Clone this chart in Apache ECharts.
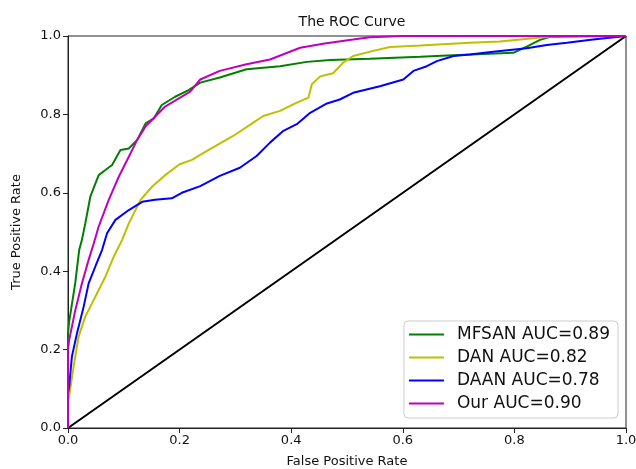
<!DOCTYPE html>
<html>
<head>
<meta charset="utf-8">
<script src="https://cdn.jsdelivr.net/npm/echarts@6/dist/echarts.min.js"></script>
<style>
  html, body { margin: 0; padding: 0; background: #fff; }
  #chart { width: 636px; height: 469px; }
</style>
</head>
<body>
<div id="chart"></div>
<script>
// ROC curves (false positive rate / true positive rate)
const mfsanFpr = [0, 0, 0.002, 0.013, 0.02, 0.025, 0.031, 0.04, 0.055, 0.067, 0.079, 0.094, 0.109, 0.124, 0.139, 0.154, 0.168, 0.192, 0.216, 0.237, 0.272, 0.32, 0.38, 0.428, 0.47, 0.541, 0.631, 0.69, 0.798, 0.822, 0.846, 0.864, 1.0];
const mfsanTpr = [0, 0.24, 0.27, 0.37, 0.454, 0.48, 0.522, 0.59, 0.645, 0.658, 0.671, 0.709, 0.713, 0.735, 0.777, 0.79, 0.824, 0.845, 0.862, 0.881, 0.894, 0.915, 0.923, 0.934, 0.939, 0.942, 0.947, 0.951, 0.957, 0.973, 0.99, 0.998, 1.0];

const danFpr = [0, 0, 0.002, 0.01, 0.019, 0.031, 0.049, 0.067, 0.082, 0.097, 0.109, 0.13, 0.151, 0.174, 0.2, 0.222, 0.249, 0.296, 0.332, 0.35, 0.38, 0.41, 0.431, 0.437, 0.452, 0.475, 0.493, 0.511, 0.547, 0.577, 0.631, 0.72, 0.774, 0.852, 0.87, 1.0];
const danTpr = [0, 0.07, 0.08, 0.156, 0.233, 0.284, 0.335, 0.386, 0.437, 0.48, 0.522, 0.582, 0.616, 0.645, 0.673, 0.684, 0.707, 0.745, 0.779, 0.796, 0.809, 0.83, 0.843, 0.877, 0.897, 0.905, 0.932, 0.949, 0.962, 0.972, 0.976, 0.983, 0.986, 0.997, 1.0, 1.0];

const daanFpr = [0, 0, 0.002, 0.007, 0.016, 0.028, 0.037, 0.049, 0.061, 0.07, 0.085, 0.109, 0.133, 0.156, 0.186, 0.204, 0.237, 0.272, 0.308, 0.338, 0.362, 0.386, 0.41, 0.434, 0.464, 0.487, 0.511, 0.559, 0.601, 0.619, 0.643, 0.661, 0.691, 0.72, 0.762, 0.822, 0.858, 0.894, 0.941, 1.0];
const daanTpr = [0, 0.09, 0.105, 0.182, 0.241, 0.309, 0.369, 0.412, 0.454, 0.497, 0.531, 0.556, 0.577, 0.582, 0.586, 0.6, 0.617, 0.643, 0.664, 0.694, 0.728, 0.758, 0.775, 0.804, 0.828, 0.838, 0.855, 0.872, 0.889, 0.911, 0.923, 0.936, 0.949, 0.953, 0.96, 0.969, 0.977, 0.983, 0.991, 1.0];

const ourFpr = [0, 0, 0.002, 0.013, 0.025, 0.037, 0.046, 0.055, 0.073, 0.091, 0.109, 0.124, 0.139, 0.156, 0.174, 0.198, 0.219, 0.237, 0.272, 0.32, 0.362, 0.416, 0.46, 0.511, 0.541, 0.6, 1.0];
const ourTpr = [0, 0.2, 0.224, 0.3, 0.369, 0.429, 0.47, 0.514, 0.582, 0.641, 0.692, 0.735, 0.769, 0.794, 0.82, 0.84, 0.858, 0.889, 0.911, 0.928, 0.94, 0.97, 0.981, 0.991, 0.997, 1.0, 1.0];

const chanceFpr = [0, 1];
const chanceTpr = [0, 1];

const seriesNames = ['MFSAN AUC=0.89', 'DAN AUC=0.82', 'DAAN AUC=0.78', 'Our AUC=0.90'];
const seriesColors = ['#008000', '#bfbf00', '#0000ff', '#bf00bf'];

const xTickLabels = ['0.0', '0.2', '0.4', '0.6', '0.8', '1.0'];

function pairs(xs, ys) {
  return xs.map((x, i) => [x, ys[i]]);
}

const curves = [
  pairs(mfsanFpr, mfsanTpr),
  pairs(danFpr, danTpr),
  pairs(daanFpr, daanTpr),
  pairs(ourFpr, ourTpr)
];

const chart = echarts.init(document.getElementById('chart'));
const fontFamily = 'DejaVu Sans';

const lineSeries = curves.map((data, i) => ({
  name: seriesNames[i],
  type: 'line',
  data: data,
  showSymbol: false,
  symbol: 'none',
  lineStyle: { color: seriesColors[i], width: 2 },
  itemStyle: { color: seriesColors[i] },
  animation: false,
  z: 3 + i
}));

lineSeries.push({
  name: 'chance',
  type: 'line',
  data: pairs(chanceFpr, chanceTpr),
  symbol: 'none',
  lineStyle: { color: '#000', width: 2 },
  animation: false,
  z: 2
});

chart.setOption({
  animation: false,
  backgroundColor: '#fff',
  title: {
    text: 'The ROC Curve',
    left: 347,
    textAlign: 'center',
    top: 10,
    textStyle: { fontFamily, fontSize: 14, fontWeight: 'normal', color: '#111' }
  },
  grid: {
    left: 68,
    right: 10,
    top: 36,
    bottom: 41,
    outerBoundsMode: 'none',
    containLabel: false,
    show: true,
    borderColor: '#222',
    borderWidth: 1
  },
  legend: {
    data: seriesNames,
    orient: 'vertical',
    right: 18,
    bottom: 51,
    padding: [5, 8, 6, 5],
    borderColor: '#ccc',
    borderWidth: 1,
    borderRadius: 4,
    backgroundColor: '#fff',
    icon: 'rect',
    itemWidth: 35,
    itemHeight: 2,
    itemGap: 6,
    textStyle: { fontFamily, fontSize: 17, color: '#111', padding: [0, 0, 0, 8] }
  },
  xAxis: {
    type: 'value',
    min: 0,
    max: 1,
    interval: 0.2,
    name: 'False Positive Rate',
    nameLocation: 'middle',
    nameGap: 27,
    nameTextStyle: { fontFamily, fontSize: 13, color: '#111' },
    axisLine: { show: true, lineStyle: { color: '#222', width: 1 } },
    axisTick: { show: true, inside: false, length: 5, lineStyle: { color: '#222' } },
    axisLabel: {
      fontFamily, fontSize: 13, color: '#111', margin: 6,
      formatter: v => xTickLabels[Math.round(v / 0.2)]
    },
    splitLine: { show: false }
  },
  yAxis: {
    type: 'value',
    min: 0,
    max: 1,
    interval: 0.2,
    name: 'True Positive Rate',
    nameLocation: 'middle',
    nameGap: 45,
    nameTextStyle: { fontFamily, fontSize: 13, color: '#111' },
    axisLine: { show: true, lineStyle: { color: '#222', width: 1 } },
    axisTick: { show: true, inside: false, length: 5, lineStyle: { color: '#222' } },
    axisLabel: {
      fontFamily, fontSize: 13, color: '#111', margin: 7,
      formatter: v => v.toFixed(1)
    },
    splitLine: { show: false }
  },
  series: lineSeries
});
</script>
</body>
</html>
